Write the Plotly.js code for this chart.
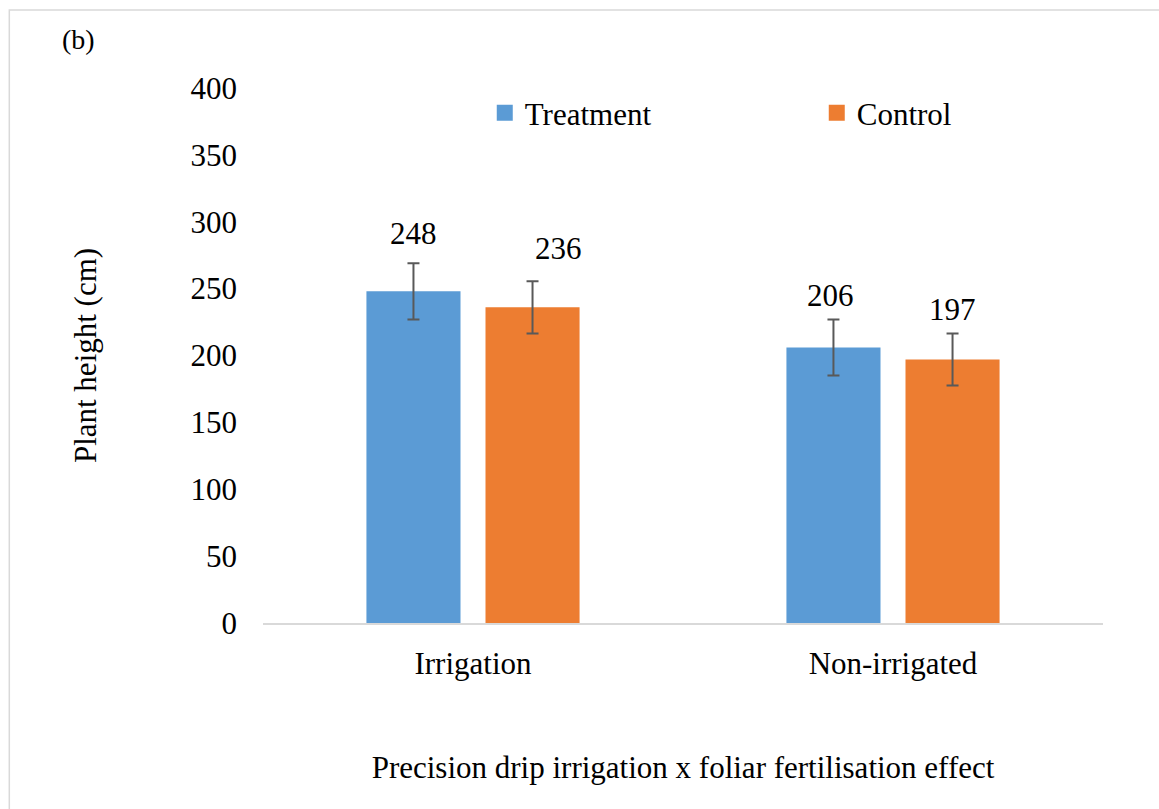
<!DOCTYPE html>
<html>
<head>
<meta charset="utf-8">
<script src="https://cdn.plot.ly/plotly-3.0.1.min.js"></script>
<style>
  html, body { margin: 0; padding: 0; background: #ffffff; }
  #chart { width: 1159px; height: 809px; }
</style>
</head>
<body>
<div id="chart"></div>
<script>
// Plant height by irrigation regime, treatment vs control
const categories = ['Irrigation', 'Non-irrigated'];
const seriesNames = ['Treatment', 'Control'];
const treatmentValues = [248, 206];
const controlValues = [236, 197];
const treatmentErrors = [21, 21];
const controlErrors = [19.5, 19.5];
const yTickValues = [0, 50, 100, 150, 200, 250, 300, 350, 400];

const FONT = '"Liberation Serif", "Times New Roman", Times, serif';
const FS = 31;
const COLORS = ['#5B9BD5', '#ED7D31'];

const errStyle = { type: 'data', visible: true, color: '#595959', thickness: 2, width: 6 };

const barTraces = [
  {
    type: 'bar', name: seriesNames[0], x: categories, y: treatmentValues,
    marker: { color: COLORS[0] }, showlegend: false,
    error_y: Object.assign({ array: treatmentErrors }, errStyle),
    hoverinfo: 'skip'
  },
  {
    type: 'bar', name: seriesNames[1], x: categories, y: controlValues,
    marker: { color: COLORS[1] }, showlegend: false,
    error_y: Object.assign({ array: controlErrors }, errStyle),
    hoverinfo: 'skip'
  }
];

// legend entries with larger square swatches
const legendTraces = seriesNames.map((name, k) => ({
  type: 'scatter', mode: 'markers', name: name,
  x: [null], y: [null],
  marker: { symbol: 'square', size: 16, color: COLORS[k] },
  hoverinfo: 'skip'
}));

// value labels sit above each bar; pixel offsets per series/category
const barOffsetPx = 60;
const labelShift = {
  Treatment: [{ dx: 0, dy: 58 }, { dx: -3, dy: 52 }],
  Control: [{ dx: 25, dy: 59 }, { dx: -1, dy: 50 }]
};
const annotations = [];
[[seriesNames[0], treatmentValues, -1], [seriesNames[1], controlValues, 1]].forEach(([name, vals, side]) => {
  vals.forEach((v, i) => {
    annotations.push({
      xref: 'x', yref: 'y', x: categories[i], y: v,
      text: String(v), showarrow: false,
      xanchor: 'center', yanchor: 'middle',
      xshift: side * barOffsetPx + labelShift[name][i].dx,
      yshift: labelShift[name][i].dy,
      font: { family: FONT, size: FS, color: '#000000' }
    });
  });
});

annotations.push({
  xref: 'paper', yref: 'paper', x: -0.242, y: 1.09,
  xanchor: 'left', yanchor: 'middle', showarrow: false,
  text: '(b)', font: { family: FONT, size: 28, color: '#000000' }
});

const layout = {
  width: 1159, height: 809,
  margin: { l: 263, r: 56, t: 88, b: 186, pad: 0, autoexpand: false },
  paper_bgcolor: '#ffffff', plot_bgcolor: '#ffffff',
  font: { family: FONT, size: FS, color: '#000000' },
  barmode: 'group', bargap: 0.433, bargroupgap: 0.21,
  showlegend: true,
  legend: {
    orientation: 'h', x: 0.264, y: 0.953, xanchor: 'left', yanchor: 'middle',
    entrywidth: 287, entrywidthmode: 'pixels',
    font: { family: FONT, size: FS, color: '#000000' },
    itemclick: false, itemdoubleclick: false, bgcolor: 'rgba(0,0,0,0)'
  },
  xaxis: {
    type: 'category', showgrid: false, zeroline: false,
    showline: true, linecolor: '#d9d9d9', linewidth: 2,
    ticks: '', ticklabelstandoff: 12,
    tickfont: { family: FONT, size: FS, color: '#000000' },
    title: {
      text: 'Precision drip irrigation x foliar fertilisation effect',
      font: { family: FONT, size: FS, color: '#000000' }, standoff: 76
    }
  },
  yaxis: {
    range: [0, 400], tickvals: yTickValues, showgrid: false, zeroline: false,
    showline: false, ticks: '', ticklabelstandoff: 25,
    tickfont: { family: FONT, size: FS, color: '#000000' },
    title: {
      text: 'Plant height (cm)',
      font: { family: FONT, size: FS, color: '#000000' }, standoff: 84
    }
  },
  annotations: annotations,
  shapes: [{
    type: 'rect', xref: 'paper', yref: 'paper',
    x0: -0.302, x1: 1.2, y0: -0.5, y1: 1.146,
    line: { color: '#d9d9d9', width: 1.5 }, fillcolor: 'rgba(0,0,0,0)', layer: 'below'
  }]
};

Plotly.newPlot('chart', barTraces.concat(legendTraces), layout, { displayModeBar: false, staticPlot: true });
</script>
</body>
</html>
